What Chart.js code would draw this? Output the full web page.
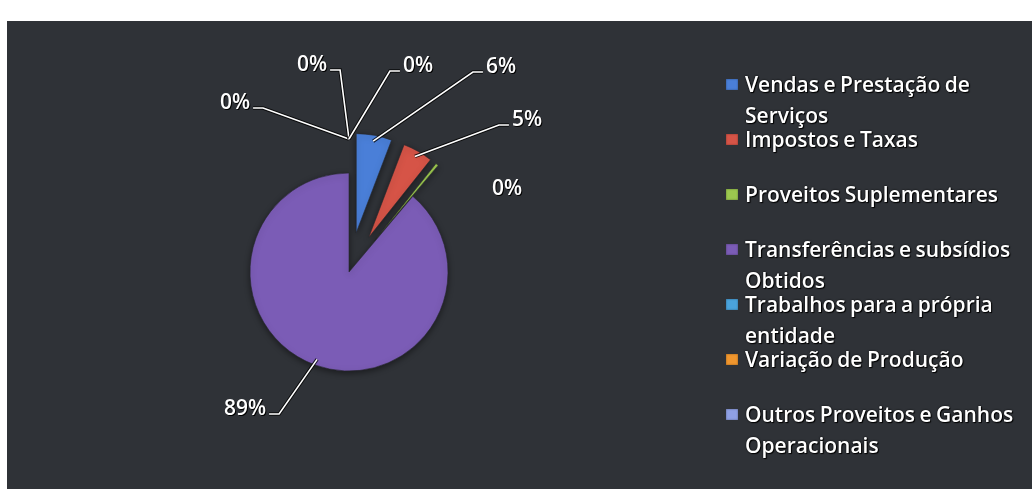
<!DOCTYPE html>
<html>
<head>
<meta charset="utf-8">
<script src="https://cdn.jsdelivr.net/npm/chart.js@4.4.1/dist/chart.umd.min.js"></script>
<style>
  body { margin: 0; background: #fff; }
  #painel {
    position: absolute; left: 7px; top: 21px; width: 1025px; height: 468px;
    background: #2f3237;
  }
  #grafico { position: absolute; left: 0; top: 0; }
  .item {
    position: absolute; left: 719px;
    font-family: "Open Sans", sans-serif; font-size: 21px; font-weight: 600;
    line-height: 31px; word-spacing: -1px;
    color: #fff; text-shadow: 1px 1px 1px #000, 0 0 2px #000;
  }
  .item span.marca {
    position: absolute; left: 0; top: 10px; width: 12px; height: 11px;
    box-shadow: inset 0 0 2px rgba(0,0,0,0.45);
  }
  .item div.texto { margin-left: 19px; white-space: nowrap; }
</style>
</head>
<body>
<div id="painel">
  <canvas id="grafico" width="1025" height="468"></canvas>
  <div id="legenda"></div>
</div>
<script>
// Categorias (linhas da legenda) e valores em %
const categorias = [
  ['Vendas e Prestação de', 'Serviços'],
  ['Impostos e Taxas'],
  ['Proveitos Suplementares'],
  ['Transferências e subsídios', 'Obtidos'],
  ['Trabalhos para a própria', 'entidade'],
  ['Variação de Produção'],
  ['Outros Proveitos e Ganhos', 'Operacionais']
];
const valores = [5.8, 4.9, 0.45, 88.85, 0, 0, 0];
const cores = ['#4a7fd8', '#d65447', '#9cc84f', '#7b5cb6', '#4aa3dc', '#f0962e', '#8fa0e4'];

// fatias destacadas (px) e posição das etiquetas em relação ao centro
const destaque = [40, 40, 40, 0, 40, 40, 40];
const etiquetas = [
  { dx: 152, dy: -205, lado: 'esq' },
  { dx: 178, dy: -152, lado: 'esq' },
  { dx: 158, dy: -83, lado: null },
  { dx: -104, dy: 137, lado: 'dir' },
  { dx: -114, dy: -169, lado: 'dir' },
  { dx: -37, dy: -207, lado: 'dir' },
  { dx: 69, dy: -206, lado: 'esq' }
];

// Legenda
const legenda = document.getElementById('legenda');
categorias.forEach((linhas, i) => {
  const item = document.createElement('div');
  item.className = 'item';
  item.style.top = (63 - 15.5 + i * 55) + 'px';
  item.innerHTML = '<span class="marca" style="background:' + cores[i] + '"></span>' +
    '<div class="texto">' + linhas.join('<br>') + '</div>';
  legenda.appendChild(item);
});

const fonteEtiqueta = '600 21px "Open Sans", sans-serif';

// desenha as fatias afastadas do centro
const fatias = {
  id: 'fatias',
  beforeDatasetDraw(chart, args) {
    const ctx = chart.ctx;
    args.meta.data.forEach((arco, i) => {
      const meio = (arco.startAngle + arco.endAngle) / 2;
      ctx.save();
      ctx.shadowColor = 'rgba(0,0,0,0.45)';
      ctx.shadowBlur = 6;
      ctx.shadowOffsetY = 2;
      ctx.translate(Math.cos(meio) * destaque[i], Math.sin(meio) * destaque[i]);
      arco.draw(ctx);
      ctx.restore();
    });
    return false;
  }
};

// percentagens com linhas de chamada
const rotulos = {
  id: 'rotulos',
  afterDatasetsDraw(chart) {
    const ctx = chart.ctx;
    const meta = chart.getDatasetMeta(0);
    const total = valores.reduce((a, b) => a + b, 0);
    ctx.save();
    ctx.font = fonteEtiqueta;
    ctx.textAlign = 'center';
    ctx.textBaseline = 'middle';
    meta.data.forEach((arco, i) => {
      const meio = (arco.startAngle + arco.endAngle) / 2;
      const d = destaque[i] + arco.outerRadius - 6;
      const ax = arco.x + Math.cos(meio) * d;
      const ay = arco.y + Math.sin(meio) * d;
      const et = etiquetas[i];
      const tx = arco.x + et.dx;
      const ty = arco.y + et.dy;
      const texto = Math.round(valores[i] / total * 100) + '%';
      const larg = ctx.measureText(texto).width;
      if (et.lado) {
        const s = et.lado === 'esq' ? -1 : 1;
        const x0 = tx + s * (larg / 2 + 3);
        const ly = ty + 5;
        ctx.beginPath();
        ctx.moveTo(x0, ly);
        ctx.lineTo(x0 + s * 10, ly);
        ctx.lineTo(ax, ay);
        ctx.strokeStyle = 'rgba(0,0,0,0.8)';
        ctx.lineWidth = 3.5;
        ctx.stroke();
        ctx.strokeStyle = '#fff';
        ctx.lineWidth = 1.6;
        ctx.stroke();
      }
      ctx.fillStyle = '#000';
      ctx.fillText(texto, tx + 1, ty + 1);
      ctx.fillStyle = '#fff';
      ctx.fillText(texto, tx, ty);
    });
    ctx.restore();
  }
};

new Chart(document.getElementById('grafico'), {
  type: 'pie',
  data: {
    labels: categorias.map(l => l.join(' ')),
    datasets: [{
      data: valores,
      backgroundColor: cores,
      borderColor: '#26282d',
      borderWidth: 0.6
    }]
  },
  options: {
    responsive: false,
    animation: false,
    radius: 99,
    layout: { padding: { left: 0, right: 341, top: 34, bottom: 0 } },
    plugins: {
      legend: { display: false },
      tooltip: { enabled: false }
    }
  },
  plugins: [fatias, rotulos]
});
</script>
</body>
</html>
